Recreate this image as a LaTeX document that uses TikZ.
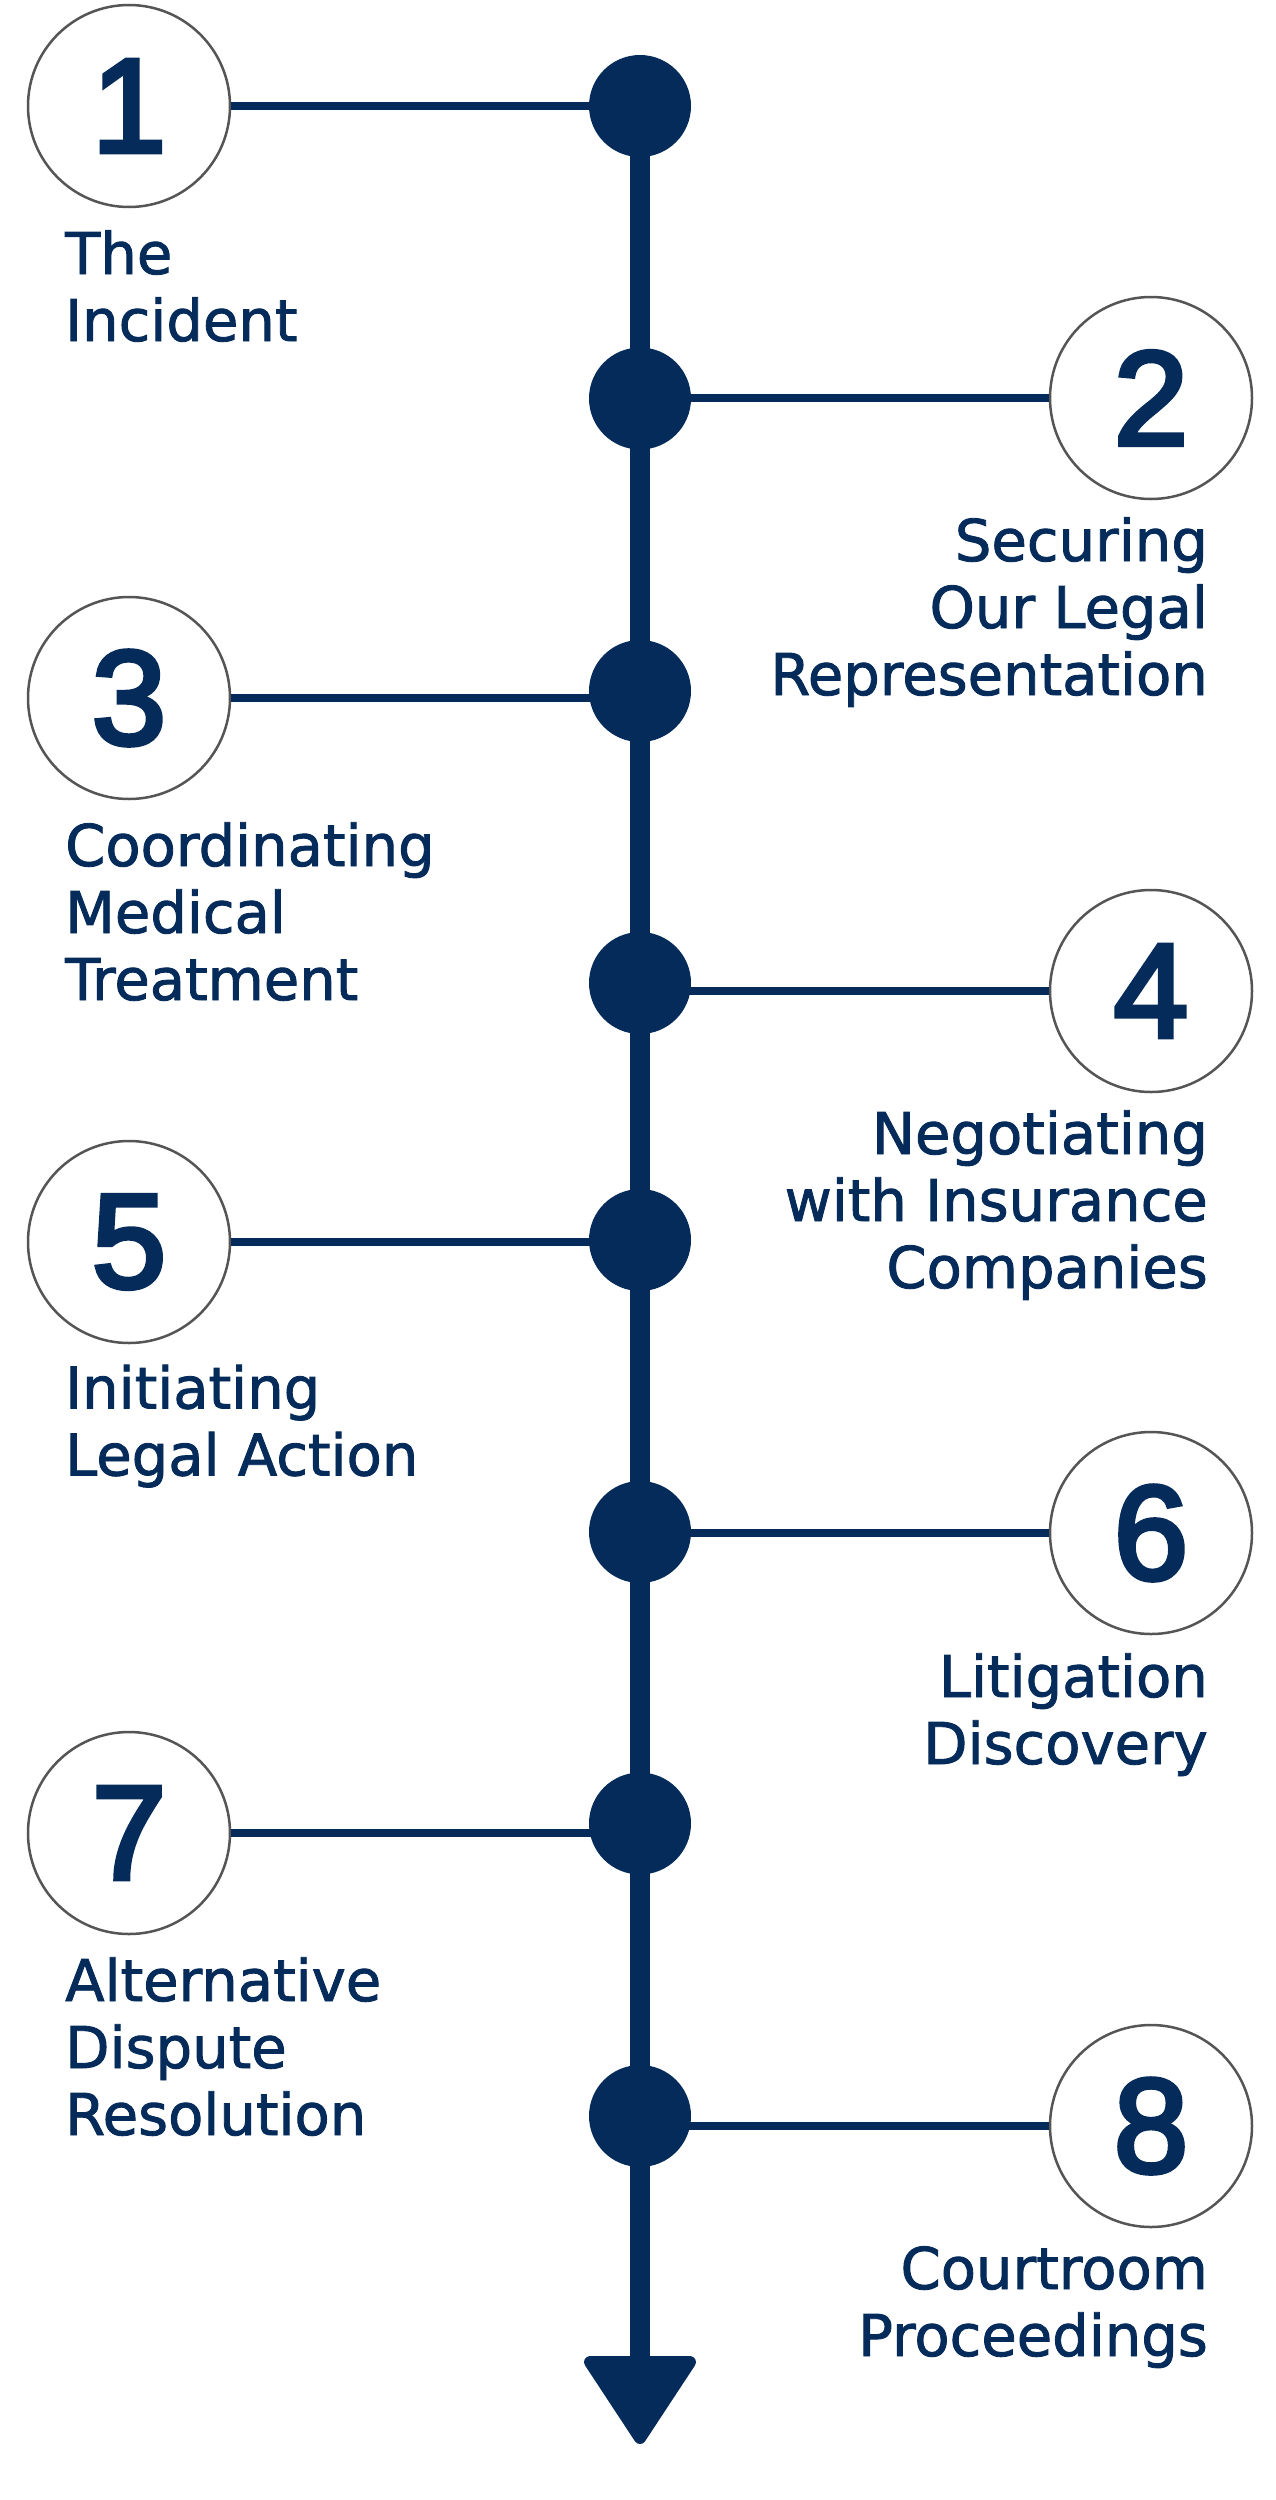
\documentclass[tikz,border=0pt]{standalone}
\usepackage{fontspec}
\setmainfont{DejaVu Sans}
\newfontfamily\labfont{DejaVu Sans}[FakeBold=1.5]
\newfontfamily\numfont{Liberation Sans}[FakeBold=3.5]
\definecolor{navy}{RGB}{4,43,90}
\definecolor{ringgray}{RGB}{85,85,85}
\newcommand{\lblL}[1]{\begin{tabular}[t]{@{}l@{}}#1\end{tabular}}
\newcommand{\lblR}[1]{\begin{tabular}[t]{@{}r@{}}#1\end{tabular}}
\begin{document}
\begin{tikzpicture}[x=1pt,y=-1pt,
  dot/.style={circle,fill=navy,minimum size=102pt,inner sep=0pt},
  ring/.style={circle,draw=ringgray,line width=2.5pt,fill=white,minimum size=202pt,inner sep=0pt,text=navy,font=\numfont\fontsize{134}{134}\selectfont},
  conn/.style={draw=navy,line width=8pt},
  spine/.style={draw=navy,line width=20pt},
  lab/.style={text=navy,inner sep=0pt,font=\labfont\fontsize{57.6}{67}\selectfont},
  labL/.style={lab,anchor=base west},
  labR/.style={lab,anchor=base east},
]
\fill[white] (0,0) rectangle (1275,2500);
\useasboundingbox (0,0) rectangle (1275,2500);

% coordinates of the dots on the spine
\coordinate (p1) at (640,106);
\coordinate (p2) at (640,398.5);
\coordinate (p3) at (640,691);
\coordinate (p4) at (640,983);
\coordinate (p5) at (640,1240);
\coordinate (p6) at (640,1532);
\coordinate (p7) at (640,1823.5);
\coordinate (p8) at (640,2116);
\coordinate (atop) at (640,2362);
\coordinate (tl) at (590,2362);
\coordinate (tr) at (690,2362);
\coordinate (tip) at (640,2438);

% spine and arrow head
\draw[spine] (p1) -- (atop);
\filldraw[navy,line width=12pt,line join=round] (tl) -- (tr) -- (tip) -- cycle;

% number circles
\node[ring] (c1) at (129,106) {1};
\node[ring] (c2) at (1151,398) {2};
\node[ring] (c3) at (129,698) {3};
\node[ring] (c4) at (1151,991) {4};
\node[ring] (c5) at (129,1242) {5};
\node[ring] (c6) at (1151,1533) {6};
\node[ring] (c7) at (129,1833) {7};
\node[ring] (c8) at (1151,2126) {8};

% connectors
\foreach \i in {1,...,8}{
  \draw[conn] (c\i) -- (c\i -| p\i);
}

% dots
\foreach \i in {1,...,8}{
  \node[dot] (d\i) at (p\i) {};
}

% labels
\node[labL] (t1) at (65,274) {\lblL{The\\Incident}};
\node[labR] (t2) at (1208,561) {\lblR{Securing\\Our Legal\\Representation}};
\node[labL] (t3) at (65,866) {\lblL{Coordinating\\Medical\\Treatment}};
\node[labR] (t4) at (1208,1154) {\lblR{Negotiating\\with Insurance\\Companies}};
\node[labL] (t5) at (65,1408.5) {\lblL{Initiating\\Legal Action}};
\node[labR] (t6) at (1208,1697) {\lblR{Litigation\\Discovery}};
\node[labL] (t7) at (65,2001) {\lblL{Alternative\\Dispute\\Resolution}};
\node[labR] (t8) at (1208,2289) {\lblR{Courtroom\\Proceedings}};
\end{tikzpicture}
\end{document}
